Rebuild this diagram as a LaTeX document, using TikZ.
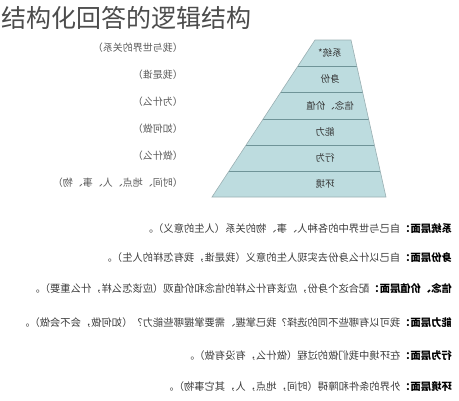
\documentclass[tikz,border=0pt]{standalone}
\usepackage{fontspec}
\setmainfont{Noto Sans CJK SC}
\usetikzlibrary{calc}
\definecolor{pyrfill}{HTML}{BDDCDF}
\definecolor{pyrline}{HTML}{6F9498}
\definecolor{pyredge}{HTML}{9AAFB2}
\definecolor{labgrey}{HTML}{5A5A5A}
\definecolor{descgrey}{HTML}{3C3C3C}
\tikzset{
  mirror/.style={xscale=-1,inner sep=0pt},
  lvltext/.style={mirror,font=\fontsize{9.5}{11}\selectfont,text=black!80},
  labtext/.style={mirror,anchor=west,font=\fontsize{10}{12}\selectfont,text=labgrey},
  desctext/.style={mirror,anchor=west,font=\fontsize{10.3}{12}\selectfont,text=descgrey}
}
\begin{document}
\begin{tikzpicture}[x=1pt,y=-1pt]
\useasboundingbox (0,0) rectangle (459,400);

\node[anchor=west,inner sep=0pt,font=\fontsize{25}{28}\selectfont,text=black!70] (title) at (1,18) {结构化回答的逻辑结构}; %title

% pyramid
\coordinate (tl) at (315,40);
\coordinate (tr) at (351,40);
\coordinate (bl) at (212,197);
\coordinate (br) at (386,197);
\fill[pyrfill] (tl)--(tr)--(br)--(bl)--cycle;
\foreach \y in {66,92,119,145,171}{
  \draw[pyrline,line width=1pt] ($(tl)!{(\y-40)/157}!(bl)$) -- ($(tr)!{(\y-40)/157}!(br)$);
}
\draw[pyredge,line width=0.6pt] (br)--(bl)--(tl)--(tr)--cycle; %outline

% level names (mirrored)
\foreach \t/\x/\y [count=\i] in {系统*/330/53, 身份/330/79, 信念、价值/330/105.5,
                                 能力/325/132, 行为/325/158, 环境/325/184}{
  \node[lvltext] (lvl\i) at (\x,\y) {\t};
}

% labels left of the pyramid
\foreach \t/\y [count=\i] in {（我与世界的关系）/48, （我是谁）/75, （为什么）/102,
                              （如何做）/129, （做什么）/156, （时间、地点、人、事、物）/183}{
  \node[labtext] (lab\i) at (183,\y) {\t};
}

% descriptions
\foreach \h/\t/\y [count=\i] in {
  系统层面：/自己与世界中的各种人、事、物的关系（人生的意义）。/229,
  身份层面：/自己以什么身份去实现人生的意义（我是谁，我有怎样的人生）。/258,
  信念、价值层面：/配合这个身份，应该有什么样的信念和价值观（应该怎么样，什么重要）。/289,
  能力层面：/我可以有哪些不同的选择？我已掌握、需要掌握哪些能力？（如何做，会不会做）。/323,
  行为层面：/在环境中我们做的过程（做什么，有没有做）。/356,
  环境层面：/外界的条件和障碍（时间，地点，人，其它事物）。/387}{
  \node[desctext] (desc\i) at (452,\y) {\textbf{\textcolor{black}{\h}}\t};
}
\end{tikzpicture}
\end{document}
